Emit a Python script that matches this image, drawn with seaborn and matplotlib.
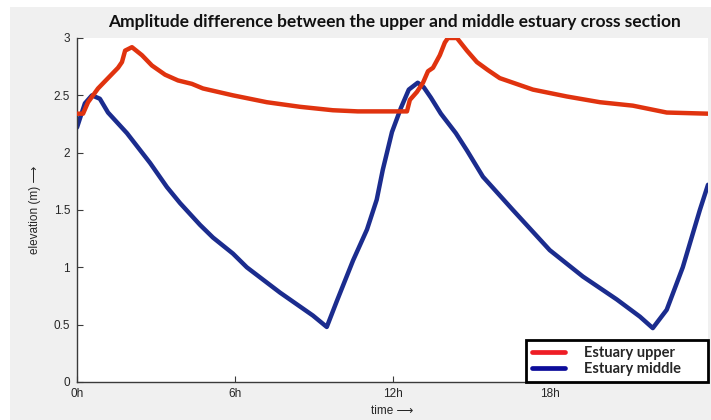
import matplotlib
matplotlib.use("Agg")
import matplotlib.pyplot as plt
from matplotlib.lines import Line2D
from matplotlib.patches import Rectangle
import seaborn as sns
import pandas as pd

# Water level at the upper estuary cross section (time in hours, elevation in m)
upper_time = [0.0, 0.23, 0.42, 0.80, 1.18, 1.56, 1.71, 1.83, 2.09, 2.47, 2.85,
              3.35, 3.84, 4.37, 4.79, 5.93, 7.22, 8.48, 9.73, 10.68, 12.55,
              12.66, 12.93, 13.16, 13.35, 13.54, 13.80, 13.99, 14.11, 14.45,
              14.83, 15.21, 15.63, 16.08, 17.34, 18.63, 19.89, 21.14, 22.43, 24.0]
upper_level = [2.34, 2.34, 2.44, 2.56, 2.65, 2.74, 2.79, 2.89, 2.92, 2.85, 2.76,
               2.68, 2.63, 2.60, 2.56, 2.50, 2.44, 2.40, 2.37, 2.36, 2.36,
               2.46, 2.53, 2.61, 2.71, 2.74, 2.85, 2.96, 3.00, 3.00,
               2.89, 2.79, 2.72, 2.65, 2.55, 2.49, 2.44, 2.41, 2.35, 2.34]

# Water level at the middle estuary cross section
middle_time = [0.0, 0.30, 0.57, 0.87, 1.18, 1.90, 2.78, 3.42, 3.92, 4.68, 5.17,
               5.93, 6.46, 7.72, 8.97, 9.50, 9.89, 10.50, 11.03, 11.40, 11.63,
               11.98, 12.32, 12.62, 12.96, 13.19, 13.46, 13.84, 14.41, 14.83,
               15.44, 16.58, 17.98, 19.24, 20.53, 21.41, 21.90, 22.43, 23.04,
               23.69, 24.0]
middle_level = [2.22, 2.43, 2.50, 2.47, 2.35, 2.17, 1.91, 1.70, 1.56, 1.37, 1.26,
                1.12, 1.00, 0.78, 0.58, 0.48, 0.71, 1.06, 1.33, 1.59, 1.85,
                2.18, 2.39, 2.55, 2.61, 2.57, 2.48, 2.34, 2.17, 2.02,
                1.79, 1.50, 1.15, 0.92, 0.72, 0.57, 0.47, 0.63, 1.00,
                1.50, 1.72]

series_names = ["Estuary upper", "Estuary middle"]
x_ticks = [0, 6, 12, 18]
x_tick_labels = ["0h", "6h", "12h", "18h"]
y_ticks = [0, 0.5, 1, 1.5, 2, 2.5, 3]
y_tick_labels = ["0", "0.5", "1", "1.5", "2", "2.5", "3"]

sns.set_theme(style="ticks")
plt.rcParams["font.family"] = ["Liberation Sans", "DejaVu Sans"]

fig = plt.figure(figsize=(7.11, 4.2), dpi=100, facecolor="white")
# grey window panel behind the axes
fig.patches.append(Rectangle((10 / 711, 0), 1 - 10 / 711, 1 - 7 / 420,
                             transform=fig.transFigure, facecolor="#f0f0f0",
                             edgecolor="none", zorder=-10))

ax = fig.add_axes([77 / 711, 38 / 420, 631 / 711, 344 / 420])
ax.set_facecolor("white")

upper_df = pd.DataFrame({"time": upper_time, "level": upper_level})
middle_df = pd.DataFrame({"time": middle_time, "level": middle_level})

sns.lineplot(data=upper_df, x="time", y="level", ax=ax, sort=False,
             color="#e0330f", linewidth=3.2, solid_capstyle="round",
             solid_joinstyle="round", zorder=3)
sns.lineplot(data=middle_df, x="time", y="level", ax=ax, sort=False,
             color="#1b2c8e", linewidth=3.2, solid_capstyle="round",
             solid_joinstyle="round", zorder=2)

ax.set_xlim(0, 24)
ax.set_ylim(0, 3)
ax.set_xticks(x_ticks)
ax.set_xticklabels(x_tick_labels)
ax.set_yticks(y_ticks)
ax.set_yticklabels(y_tick_labels)

for side in ("top", "right"):
    ax.spines[side].set_visible(False)
for side in ("left", "bottom"):
    ax.spines[side].set_color("#3a3a3a")
    ax.spines[side].set_linewidth(1.0)

ax.tick_params(axis="both", direction="in", length=4, width=0.8,
               color="#3a3a3a", labelcolor="#262626", labelsize=8.5)
ax.tick_params(axis="y", pad=5)
ax.tick_params(axis="x", pad=4)

ax.set_xlabel("time \u27f6", fontsize=8.5, color="#262626", labelpad=4,
              family=["Liberation Sans", "DejaVu Sans"])
ax.set_ylabel("elevation (m) \u27f6", fontsize=8.5, color="#262626", labelpad=9,
              family=["Liberation Sans", "DejaVu Sans"])

fig.text(0.555, 1 - 22 / 420,
         "Amplitude difference between the upper and middle estuary cross section",
         ha="center", va="center", fontsize=12.5, fontweight="bold",
         family=["Lato", "DejaVu Sans"], color="#111111")

handles = [Line2D([], [], color="#ee1d25", linewidth=3.4, solid_capstyle="round"),
           Line2D([], [], color="#0c0c9a", linewidth=3.4, solid_capstyle="round")]
legend_box = ((526 - 77) / 631, 0.0, (708 - 526) / 631, (382 - 340) / 344)
leg = ax.legend(handles, series_names, loc="lower left", mode="expand",
                bbox_to_anchor=legend_box, frameon=True, fancybox=False,
                borderpad=0.4, handlelength=2.3, handletextpad=1.3,
                labelspacing=0.15, borderaxespad=0.0,
                prop={"family": ["Lato", "DejaVu Sans"], "weight": "bold",
                      "size": 10.5})
frame = leg.get_frame()
frame.set_edgecolor("black")
frame.set_linewidth(2.0)
frame.set_facecolor("white")
frame.set_alpha(1.0)

fig.savefig("out.png", dpi=100, facecolor=fig.get_facecolor())
